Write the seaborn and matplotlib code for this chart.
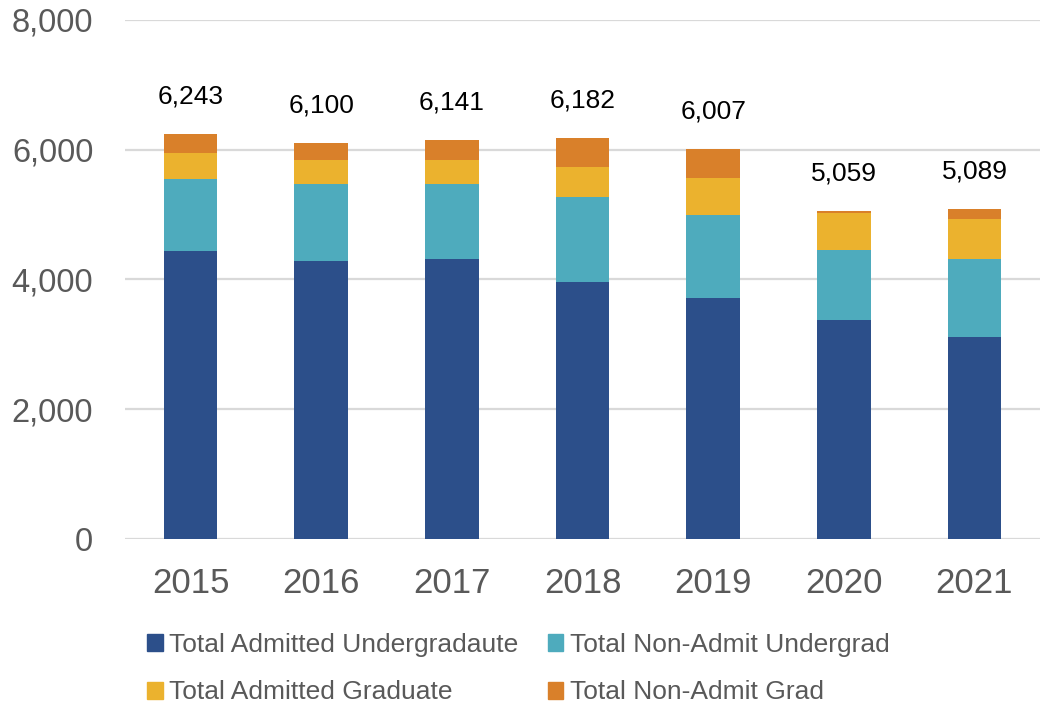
import numpy as np
import pandas as pd
import seaborn as sns
import matplotlib.pyplot as plt
from matplotlib.patches import Patch
from matplotlib.ticker import FuncFormatter

years = ["2015", "2016", "2017", "2018", "2019", "2020", "2021"]
adm_ug = [4440, 4286, 4308, 3954, 3712, 3378, 3112]
non_ug = [1108, 1176, 1154, 1308, 1282, 1068, 1200]
adm_grad = [406, 384, 384, 470, 564, 579, 620]
non_grad = [289, 254, 295, 450, 449, 34, 157]

labels = ["Total Admitted Undergradaute", "Total Non-Admit Undergrad",
          "Total Admitted Graduate", "Total Non-Admit Grad"]
colors = ["#2C4F8A", "#4EABBD", "#EBB22E", "#D9802A"]

df = pd.DataFrame({"year": years, labels[0]: adm_ug, labels[1]: non_ug,
                   labels[2]: adm_grad, labels[3]: non_grad})
cum = df[labels].cumsum(axis=1)
totals = cum[labels[-1]]

sns.set_style("white")
plt.rcParams['font.family'] = ['Liberation Sans', 'DejaVu Sans']

fig = plt.figure(figsize=(10.44, 7.08), dpi=100)
ax = fig.add_axes([0.12, 0.239, 0.876, 0.733])

# stacked bars: draw cumulative heights, tallest first
for lab, col in reversed(list(zip(labels, colors))):
    sns.barplot(x=df["year"], y=cum[lab], color=col, width=0.41,
                saturation=1, linewidth=0, ax=ax, zorder=3)

ax.set_ylim(0, 8000)
ax.set_yticks([0, 2000, 4000, 6000, 8000])
ax.yaxis.set_major_formatter(FuncFormatter(lambda v, p: f"{int(v):,}"))
ax.grid(axis="y", color="#D9D9D9", lw=1.6, zorder=0)
ax.set_axisbelow(True)
sns.despine(ax=ax, left=True, bottom=True)
ax.tick_params(axis="both", length=0, labelcolor="#595959")
ax.tick_params(axis="y", pad=23, labelsize=23.5)
ax.tick_params(axis="x", pad=20, labelsize=25)
ax.set_xlabel("")
ax.set_ylabel("")

for i, t in enumerate(totals):
    ax.annotate(f"{t:,}", (i, t), xytext=(0, 27), textcoords="offset points",
                ha="center", va="center", fontsize=19, color="black")

handles = [Patch(color=c, label=l) for l, c in zip(labels, colors)]
order = [0, 2, 1, 3]
fig.legend([handles[i] for i in order], [labels[i] for i in order], ncol=2,
           loc="upper left", bbox_to_anchor=(0.128, 0.125), frameon=False,
           fontsize=19, labelcolor="#595959", handlelength=0.6, handleheight=0.6,
           handletextpad=0.25, columnspacing=1.1, labelspacing=0.9,
           borderpad=0)

fig.savefig("out.png", dpi=100)
